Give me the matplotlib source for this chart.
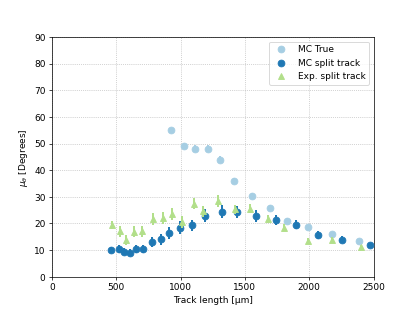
import matplotlib
matplotlib.use("Agg")
import matplotlib.pyplot as plt

# MC True
true_x = [925, 1028, 1114, 1217, 1308, 1417, 1552, 1692, 1829, 1992, 2178, 2386]
true_y = [55.0, 49.1, 48.1, 48.1, 44.0, 35.9, 30.4, 26.0, 21.1, 18.8, 16.0, 13.5]
true_err = [1.0, 1.2, 1.2, 1.2, 1.3, 1.2, 1.2, 1.0, 1.0, 0.8, 0.8, 0.8]

# MC split track
split_x = [461, 518, 557, 606, 655, 710, 777, 847, 914, 995, 1088, 1192,
           1319, 1438, 1588, 1741, 1896, 2067, 2254, 2476]
split_y = [10.2, 10.6, 9.4, 9.1, 10.4, 10.4, 13.0, 14.1, 16.5, 18.4, 19.3, 23.0,
           24.5, 24.3, 22.8, 21.3, 19.6, 15.5, 13.9, 11.8]
split_err = [1.0, 1.5, 1.3, 1.3, 1.5, 1.5, 1.8, 2.0, 2.2, 2.5, 2.2, 2.5,
             2.3, 2.2, 2.2, 2.0, 1.8, 1.5, 1.3, 1.0]

# Exp. split track
exp_x = [469, 528, 578, 635, 700, 787, 863, 933, 1010, 1103, 1178, 1295,
         1425, 1539, 1679, 1806, 1989, 2178, 2401]
exp_y = [19.6, 17.1, 13.8, 16.9, 17.0, 21.8, 22.1, 23.5, 20.6, 27.5, 24.6, 28.4,
         25.3, 25.6, 21.8, 18.4, 13.6, 13.9, 11.1]
exp_err = [1.5, 2.0, 1.8, 2.0, 2.0, 2.2, 2.2, 2.3, 2.3, 2.2, 2.0, 2.2,
           1.8, 1.8, 1.5, 1.3, 1.0, 1.0, 0.8]

fig, ax = plt.subplots(figsize=(6.4, 4.8), dpi=64.85)

ax.errorbar(true_x, true_y, yerr=true_err, fmt='o', color='#a6cee3',
            ms=7.5, elinewidth=2.2, label='MC True', zorder=3)
ax.errorbar(split_x, split_y, yerr=split_err, fmt='o', color='#1f78b4',
            ms=7.5, elinewidth=2.2, label='MC split track', zorder=4)
ax.errorbar(exp_x, exp_y, yerr=exp_err, fmt='^', color='#b2df8a',
            ms=7.5, elinewidth=2.2, label='Exp. split track', zorder=5)

ax.set_xlim(0, 2500)
ax.set_ylim(0, 90)
ax.set_xlabel('Track length [μm]')
ax.set_ylabel(r'$\mu_\theta$ [Degrees]')
ax.grid(True, linestyle=':', color='#b0b0b0')
ax.set_axisbelow(True)

handles, labels = ax.get_legend_handles_labels()
ax.legend([h[0] for h in handles], labels, loc='upper right')

plt.savefig('out.png', dpi=64.85)
